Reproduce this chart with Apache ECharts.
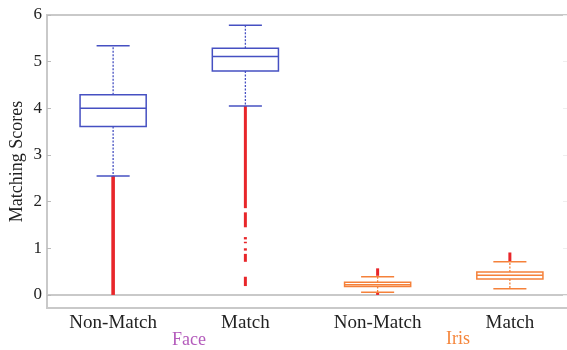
<!DOCTYPE html>
<html>
<head>
<meta charset="utf-8">
<script src="https://cdn.jsdelivr.net/npm/echarts@6/dist/echarts.min.js"></script>
<style>
  html, body { margin: 0; padding: 0; background: #fff; }
  #chart { width: 567px; height: 350px; }
</style>
</head>
<body>
<div id="chart"></div>
<script>
// Categories along the x axis (two per modality)
const categories = ['Non-Match', 'Match', 'Non-Match', 'Match'];
const groupOfCategory = ['Face', 'Face', 'Iris', 'Iris'];

// Box-plot statistics per category
const lowerWhisker = [2.55, 4.05, 0.06, 0.13];
const q1 = [3.61, 4.80, 0.18, 0.34];
const median = [4.00, 5.11, 0.22, 0.42];
const q3 = [4.29, 5.29, 0.27, 0.49];
const upperWhisker = [5.34, 5.78, 0.39, 0.71];

// Outliers, drawn as dense runs [low, high] for each category
const outlierRuns = [
  [[0.00, 2.55]],
  [[1.86, 4.05], [1.45, 1.77], [1.19, 1.24], [1.11, 1.14], [0.95, 1.00], [0.71, 0.88], [0.19, 0.39]],
  [[0.00, 0.06], [0.41, 0.57]],
  [[0.71, 0.91]]
];

// Y axis tick labels
const yTicks = [0, 1, 2, 3, 4, 5, 6];

const groupColor = { Face: '#4650c2', Iris: '#f5813a' };
const outlierColor = '#e8262a';
const serif = '"Liberation Serif", "DejaVu Serif", serif';

const boxData = categories.map((c, i) => [i, lowerWhisker[i], q1[i], median[i], q3[i], upperWhisker[i]]);
const outlierData = [];
outlierRuns.forEach((runs, i) => runs.forEach(r => outlierData.push([i, r[0], r[1]])));

function renderBox(params, api) {
  const idx = api.value(0);
  const color = groupColor[groupOfCategory[idx]];
  const x = api.coord([idx, 0])[0];
  const band = api.size([1, 0])[0];
  const hw = band * 0.25;
  const cw = band * 0.125;
  const y = v => api.coord([idx, v])[1];
  const yLo = y(api.value(1)), yQ1 = y(api.value(2)), yMed = y(api.value(3)),
        yQ3 = y(api.value(4)), yHi = y(api.value(5));
  const solid = { stroke: color, lineWidth: 1.5, fill: null };
  const dashed = { stroke: color, lineWidth: 1.3, lineDash: [2, 1.5], fill: null };
  return {
    type: 'group',
    children: [
      { type: 'line', shape: { x1: x, y1: yQ3, x2: x, y2: yHi }, style: dashed },
      { type: 'line', shape: { x1: x, y1: yQ1, x2: x, y2: yLo }, style: dashed },
      { type: 'line', shape: { x1: x - cw, y1: yHi, x2: x + cw, y2: yHi }, style: solid },
      { type: 'line', shape: { x1: x - cw, y1: yLo, x2: x + cw, y2: yLo }, style: solid },
      { type: 'rect', shape: { x: x - hw, y: yQ3, width: 2 * hw, height: yQ1 - yQ3 }, style: { stroke: color, lineWidth: 1.5, fill: '#fff' } },
      { type: 'line', shape: { x1: x - hw, y1: yMed, x2: x + hw, y2: yMed }, style: solid }
    ]
  };
}

function renderOutliers(params, api) {
  const idx = api.value(0);
  const x = api.coord([idx, 0])[0];
  const yLo = api.coord([idx, api.value(1)])[1];
  const yHi = api.coord([idx, api.value(2)])[1];
  const w = idx === 0 ? 3.6 : 3;
  return {
    type: 'rect',
    shape: { x: x - w / 2, y: yHi, width: w, height: Math.max(yLo - yHi, 1.5) },
    style: { fill: outlierColor }
  };
}

const chart = echarts.init(document.getElementById('chart'), null, { renderer: 'canvas' });
chart.setOption({
  backgroundColor: '#fff',
  animation: false,
  grid: {
    left: 47, right: -9, top: 15, bottom: 42,
    outerBoundsMode: 'none',
    containLabel: false,
    show: true, borderColor: '#c9c9c9', borderWidth: 2, backgroundColor: 'transparent'
  },
  xAxis: {
    type: 'category',
    data: categories,
    axisLine: { show: true, lineStyle: { color: '#c9c9c9', width: 2 } },
    axisTick: { show: false },
    splitLine: { show: false },
    axisLabel: { fontFamily: serif, fontSize: 19, color: '#222', margin: 6, interval: 0 }
  },
  yAxis: [{
    type: 'value',
    min: -0.28, max: 6,
    name: 'Matching Scores',
    nameLocation: 'middle',
    nameGap: 21,
    nameMoveOverlap: false,
    nameTextStyle: { fontFamily: serif, fontSize: 18, color: '#222' },
    axisLine: { show: true, lineStyle: { color: '#c9c9c9', width: 2 } },
    axisTick: { show: true, inside: true, length: 4, customValues: yTicks, lineStyle: { color: '#bbb' } },
    axisLabel: { customValues: yTicks, fontFamily: serif, fontSize: 17, color: '#222', margin: 5 },
    splitLine: { show: false }
  }, {
    type: 'value',
    position: 'right',
    min: -0.28, max: 6,
    axisLine: { show: false },
    axisTick: { show: true, inside: true, length: 13, customValues: yTicks, lineStyle: { color: '#eee' } },
    axisLabel: { show: false },
    splitLine: { show: false }
  }],
  series: [
    {
      type: 'custom',
      name: 'outliers',
      renderItem: renderOutliers,
      encode: { x: 0, y: [1, 2] },
      data: outlierData,
      z: 2
    },
    {
      type: 'custom',
      name: 'boxes',
      renderItem: renderBox,
      encode: { x: 0, y: [1, 2, 3, 4, 5] },
      data: boxData,
      z: 3
    }
  ],
  graphic: [
    { type: 'text', left: 172, top: 331, style: { text: 'Face', font: '18px ' + serif, fill: '#b45cbc' } },
    { type: 'text', left: 446, top: 330, style: { text: 'Iris', font: '18px ' + serif, fill: '#f5863c' } }
  ]
});
</script>
</body>
</html>
